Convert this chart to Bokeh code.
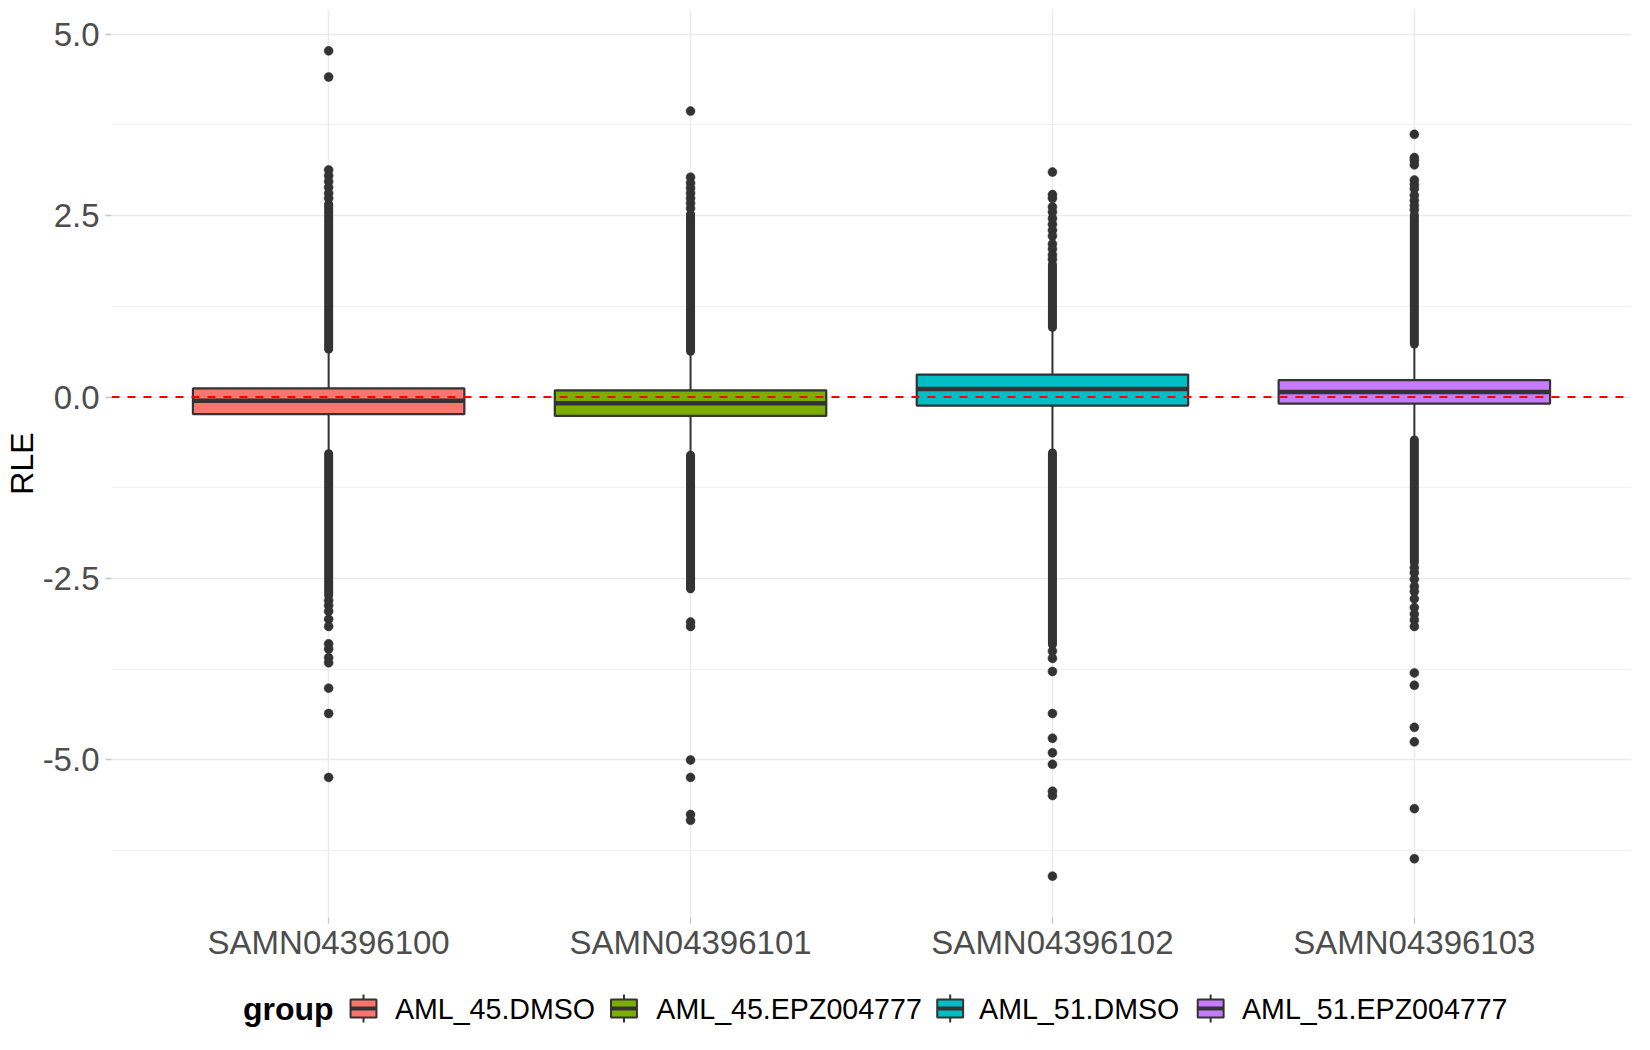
from bokeh.plotting import figure
from bokeh.models import ColumnDataSource, Range1d, FixedTicker, Span
from bokeh.layouts import column
from bokeh.core.properties import value
from bokeh.embed import file_html
from bokeh.resources import INLINE

# ---------------- data ----------------
samples = ["SAMN04396100", "SAMN04396101", "SAMN04396102", "SAMN04396103"]
groups = ["AML_45.DMSO", "AML_45.EPZ004777", "AML_51.DMSO", "AML_51.EPZ004777"]
fill_colors = ["#F8766D", "#7CAE00", "#00BFC4", "#C77CFF"]

q1 = [-0.236, -0.26, -0.117, -0.09]
med = [-0.052, -0.085, 0.11, 0.07]
q3 = [0.12, 0.093, 0.31, 0.235]
whisker_low = [-0.765, -0.785, -0.75, -0.575]
whisker_high = [0.65, 0.615, 0.945, 0.715]

# dense runs of outliers (they merge into solid columns)
dense_upper_lo = [0.66, 0.63, 0.96, 0.73]
dense_upper_hi = [2.66, 2.52, 1.83, 2.51]
dense_lower_lo = [-2.73, -2.64, -3.41, -2.28]
dense_lower_hi = [-0.78, -0.80, -0.77, -0.59]

# isolated outliers
outliers_1 = [4.77, 4.41, 3.13, 3.05, 2.97, 2.89, 2.81, 2.74,
              -2.80, -2.87, -2.95, -3.06, -3.16, -3.40, -3.47, -3.59, -3.66, -4.01, -4.36, -5.24]
outliers_2 = [3.94, 3.03, 2.95, 2.88, 2.81, 2.74, 2.67, 2.60,
              -3.10, -3.16, -5.00, -5.24, -5.75, -5.83]
outliers_3 = [3.10, 2.79, 2.74, 2.62, 2.55, 2.46, 2.38, 2.30, 2.22, 2.11, 2.04, 1.96, 1.90,
              -3.50, -3.60, -3.78, -4.36, -4.70, -4.90, -5.06, -5.43, -5.49, -6.60]
outliers_4 = [3.62, 3.30, 3.26, 3.20, 2.99, 2.93, 2.87, 2.78, 2.71, 2.64, 2.58,
              -2.35, -2.42, -2.51, -2.61, -2.68, -2.78, -2.90, -2.99, -3.07, -3.16,
              -3.80, -3.97, -4.55, -4.75, -5.67, -6.36]
outlier_lists = [outliers_1, outliers_2, outliers_3, outliers_4]

y_ticks = [-5.0, -2.5, 0.0, 2.5, 5.0]
y_tick_labels = ["-5.0", "-2.5", "0.0", "2.5", "5.0"]
y_minor = [-6.25, -3.75, -1.25, 1.25, 3.75]

legend_title = "group"

# ---------------- styling constants ----------------
FONT = "Liberation Sans"
DARK = "#333333"
GRID = "#EBEBEB"
BOX_W = 0.75
PT = 9
W = 1634
BL, BR = 105, 3

xs = [i + 1 for i in range(len(samples))]

p = figure(width=W, height=975, output_backend="svg", toolbar_location=None,
           x_range=Range1d(0.4, 4.6), y_range=Range1d(-7.17, 5.34),
           min_border_left=BL, min_border_right=BR, min_border_top=9, min_border_bottom=58,
           background_fill_color="white", border_fill_color="white")
p.outline_line_color = None

# grid
p.xgrid.grid_line_color = GRID
p.xgrid.grid_line_width = 1.5
p.ygrid.grid_line_color = GRID
p.ygrid.grid_line_width = 1.5
p.ygrid.minor_grid_line_color = "#F1F1F1"
p.ygrid.minor_grid_line_width = 1.0

# axes
p.xaxis.ticker = FixedTicker(ticks=xs)
p.xaxis.major_label_overrides = {x: s for x, s in zip(xs, samples)}
p.yaxis.ticker = FixedTicker(ticks=y_ticks, minor_ticks=y_minor)
p.yaxis.major_label_overrides = {t: s for t, s in zip(y_ticks, y_tick_labels)}
for ax in p.axis:
    ax.axis_line_color = None
    ax.major_tick_in = 0
    ax.major_tick_out = 6
    ax.major_tick_line_color = "#C4C4C4"
    ax.major_tick_line_width = 1.3
    ax.minor_tick_line_color = None
    ax.major_label_text_font = FONT
    ax.major_label_text_font_size = "33px"
    ax.major_label_text_color = "#4D4D4D"
p.xaxis.major_label_standoff = 0
p.yaxis.major_label_standoff = 6
p.yaxis.axis_label = "RLE"
p.yaxis.axis_label_text_font = FONT
p.yaxis.axis_label_text_font_size = "32px"
p.yaxis.axis_label_text_font_style = "normal"
p.yaxis.axis_label_text_color = "black"
p.yaxis.axis_label_standoff = 0

# ---------------- glyphs ----------------
box_src = ColumnDataSource(dict(
    x=xs, q1=q1, med=med, q3=q3, wlo=whisker_low, whi=whisker_high,
    color=fill_colors, group=groups,
    mx0=[x - BOX_W / 2 for x in xs], mx1=[x + BOX_W / 2 for x in xs]))

run_src = ColumnDataSource(dict(
    x=xs + xs,
    lo=dense_upper_lo + dense_lower_lo,
    hi=dense_upper_hi + dense_lower_hi))

pt_x, pt_y = [], []
for x, vals in zip(xs, outlier_lists):
    for v in vals:
        pt_x.append(x)
        pt_y.append(v)
pt_src = ColumnDataSource(dict(x=pt_x, y=pt_y))

# outliers
p.segment(x0="x", y0="lo", x1="x", y1="hi", source=run_src,
          line_color=DARK, line_width=PT, line_cap="round")
p.scatter(x="x", y="y", source=pt_src, size=PT, fill_color=DARK, line_color=DARK, line_width=0.5)

# whiskers
p.segment(x0="x", y0="q3", x1="x", y1="whi", source=box_src, line_color=DARK, line_width=2)
p.segment(x0="x", y0="q1", x1="x", y1="wlo", source=box_src, line_color=DARK, line_width=2)

# boxes
p.vbar(x="x", width=BOX_W, bottom="q1", top="q3", source=box_src,
       fill_color="color", line_color=DARK, line_width=2.2)
p.segment(x0="mx0", y0="med", x1="mx1", y1="med", source=box_src,
          line_color=DARK, line_width=4.5)

# zero reference line
p.add_layout(Span(location=0, dimension="width", line_color="red",
                  line_dash="8 8", line_width=2))

# ---------------- legend (drawn as its own strip) ----------------
LH = 66
leg = figure(width=W, height=LH, output_backend="svg", toolbar_location=None,
             x_range=Range1d(BL, W - BR), y_range=Range1d(0, LH),
             x_axis_location=None, y_axis_location=None,
             min_border_left=BL, min_border_right=BR, min_border_top=0, min_border_bottom=0,
             background_fill_color="white", border_fill_color="white")
leg.outline_line_color = None
leg.grid.visible = False

# layout of the legend strip (pixel positions within the strip)
key_cx = [358, 619.5, 947, 1208.5]
label_x = [389.5, 652, 976, 1240]
TITLE_X = 237
KEY_HALF_W = 13
KEY_BOT, KEY_TOP, KEY_MID = 24, 42, 33
WHISK_BOT, WHISK_TOP = 19, 47

key_src = ColumnDataSource(dict(
    cx=key_cx, x0=[c - KEY_HALF_W for c in key_cx], x1=[c + KEY_HALF_W for c in key_cx],
    color=fill_colors, lx=label_x, label=groups))
leg.segment(x0="cx", x1="cx", y0=WHISK_BOT, y1=WHISK_TOP, source=key_src,
            line_color=DARK, line_width=2)
leg.quad(left="x0", right="x1", bottom=KEY_BOT, top=KEY_TOP, source=key_src,
         fill_color="color", line_color=DARK, line_width=2)
leg.segment(x0="x0", x1="x1", y0=KEY_MID, y1=KEY_MID, source=key_src,
            line_color=DARK, line_width=4)
leg.text(x="lx", y=KEY_MID, text="label", source=key_src,
         text_font=value(FONT), text_font_size="28.6px", text_color="black",
         text_baseline="middle", text_align="left")
leg.text(x=[TITLE_X], y=[KEY_MID], text=[legend_title],
         text_font=value(FONT), text_font_size="32px", text_font_style="bold",
         text_color="black", text_baseline="middle", text_align="left")

layout = column(p, leg, spacing=0)
open("out.html", "w").write(file_html(layout, INLINE))
